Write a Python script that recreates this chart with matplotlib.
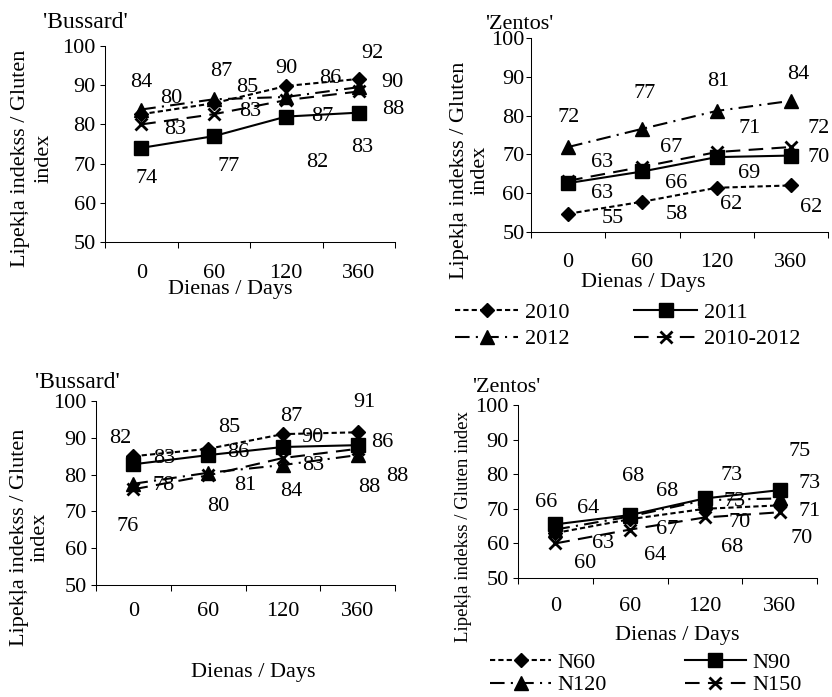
import matplotlib
matplotlib.use('Agg')
import matplotlib.pyplot as plt

plt.rcParams['font.family'] = ['Liberation Serif', 'DejaVu Serif']
plt.rcParams['font.size'] = 16

W, H = 832, 697

# ---------------- data ----------------
categories = ['0', '60', '120', '360']

year_names = ['2010', '2011', '2012', '2010-2012']
nitro_names = ['N60', 'N90', 'N120', 'N150']

# Top-left: 'Bussard' by year
bus_y2010 = [82.6, 85.4, 89.8, 91.6]
bus_y2011 = [74.0, 77.0, 82.0, 83.0]
bus_y2012 = [83.8, 86.4, 87.0, 89.5]
bus_ymean = [80.0, 82.6, 86.2, 88.4]
bus_y2010_lbl = ['83', '85', '90', '92']
bus_y2011_lbl = ['74', '77', '82', '83']
bus_y2012_lbl = ['84', '87', '87', '90']
bus_ymean_lbl = ['80', '83', '86', '88']

# Top-right: 'Zentos' by year
zen_y2010 = [54.7, 57.8, 61.4, 62.0]
zen_y2011 = [62.6, 65.6, 69.3, 69.7]
zen_y2012 = [71.9, 76.6, 81.2, 83.8]
zen_ymean = [63.2, 66.8, 70.6, 71.9]
zen_y2010_lbl = ['55', '58', '62', '62']
zen_y2011_lbl = ['63', '66', '69', '70']
zen_y2012_lbl = ['72', '77', '81', '84']
zen_ymean_lbl = ['63', '67', '71', '72']

# Bottom-left: 'Bussard' by nitrogen rate
bus_n60 = [85.0, 87.0, 91.0, 91.5]
bus_n90 = [82.8, 85.3, 87.5, 88.0]
bus_n120 = [77.5, 80.5, 82.6, 85.3]
bus_n150 = [76.0, 79.8, 84.5, 87.0]
bus_n60_lbl = ['82', '85', '87', '91']
bus_n90_lbl = ['83', '86', '90', '86']
bus_n120_lbl = ['78', '81', '83', '88']
bus_n150_lbl = ['76', '80', '84', '88']

# Bottom-right: 'Zentos' by nitrogen rate
zen_n60 = [63.0, 67.0, 70.0, 71.0]
zen_n90 = [65.5, 68.2, 73.0, 75.4]
zen_n120 = [64.0, 67.8, 72.5, 73.0]
zen_n150 = [60.0, 64.0, 67.5, 69.0]
zen_n60_lbl = ['63', '67', '70', '71']
zen_n90_lbl = ['66', '68', '73', '75']
zen_n120_lbl = ['64', '68', '73', '73']
zen_n150_lbl = ['60', '64', '68', '70']

# ---------------- label offsets (dx in categories, dy in index units) ----------------
off_p1 = [
    ([0.47, 0.46, 0.0, 0.19], [-4.0, 3.9, 4.5, 6.6]),
    ([0.07, 0.2, 0.43, 0.05], [-7.7, -7.8, -11.6, -8.8]),
    ([0.0, 0.11, 0.5, 0.47], [7.0, 7.0, -5.1, 1.3]),
    ([0.41, 0.5, 0.61, 0.47], [6.7, 0.6, 5.6, -4.7]),
]
off_p2 = [
    ([0.6, 0.46, 0.2, 0.27], [-1.1, -3.4, -4.2, -5.8]),
    ([0.46, 0.46, 0.44, 0.38], [-2.6, -3.0, -4.1, -0.4]),
    ([0.01, 0.03, 0.02, 0.1], [7.7, 9.0, 7.5, 6.7]),
    ([0.46, 0.39, 0.44, 0.38], [4.6, 5.1, 6.2, 4.9]),
]
off_p3 = [
    ([-0.18, 0.28, 0.11, 0.09], [4.9, 5.9, 4.7, 8.2]),
    ([0.41, 0.4, 0.4, 0.33], [1.6, 0.6, 2.6, 0.8]),
    ([0.41, 0.5, 0.4, 0.53], [-0.4, -3.4, -0.1, -5.7]),
    ([-0.08, 0.13, 0.11, 0.15], [-10.2, -8.6, -9.2, -10.4]),
]
off_p4 = [
    ([0.64, 0.5, 0.47, 0.4], [-2.9, -3.1, -4.1, -1.9]),
    ([-0.12, 0.04, 0.36, 0.27], [6.2, 11.0, 6.5, 11.3]),
    ([0.44, 0.5, 0.4, 0.4], [6.2, 7.3, -0.5, 4.2]),
    ([0.4, 0.33, 0.37, 0.29], [-5.7, -7.6, -8.8, -7.7]),
]

# ---------------- styles ----------------
styles = [
    dict(linestyle=(0, (2.5, 1.5)), marker='D', markersize=7.3),
    dict(linestyle='-', marker='s', markersize=9.5),
    dict(linestyle=(0, (7, 3, 1, 3)), marker='^', markersize=10.5),
    dict(linestyle=(0, (7, 4)), marker='x', markersize=9, markeredgewidth=2),
]


def rect(l, r, t, b):
    return [l / W, 1 - b / H, (r - l) / W, (b - t) / H]


def fx(x):
    return x / W


def fy(y):
    return 1 - y / H


fig = plt.figure(figsize=(W / 100, H / 100), dpi=100)


def draw_panel(box, series, labels, offsets, names, xpad, ypad):
    ax = fig.add_axes(rect(*box))
    x = list(range(len(categories)))
    handles = []
    for vals, lbls, (dxs, dys), st, nm in zip(series, labels, offsets, styles, names):
        h, = ax.plot(x, vals, color='black', linewidth=1.5, markerfacecolor='black',
                     markeredgecolor='black', clip_on=False, label=nm, **st)
        handles.append(h)
        for xi, v, t, dx, dy in zip(x, vals, lbls, dxs, dys):
            ax.text(xi + dx, v + dy, t, ha='center', va='center', fontsize=16)
    ax.set_xlim(-0.5, 3.5)
    ax.set_ylim(50, 100)
    ax.set_yticks([50, 60, 70, 80, 90, 100])
    ax.set_xticks(x)
    ax.set_xticklabels(categories)
    ax.set_xticks([-0.5, 0.5, 1.5, 2.5, 3.5], minor=True)
    ax.tick_params(axis='x', which='major', length=0, pad=xpad, labelsize=16)
    ax.tick_params(axis='x', which='minor', length=4.5, width=0.75, direction='out')
    ax.tick_params(axis='y', length=3.6, width=0.75, direction='out', pad=ypad, labelsize=16)
    for s in ['top', 'right']:
        ax.spines[s].set_visible(False)
    for s in ['left', 'bottom']:
        ax.spines[s].set_linewidth(0.75)
    ax.patch.set_alpha(0)
    return ax, handles


ax1, h1 = draw_panel((105, 395, 46, 242),
                     [bus_y2010, bus_y2011, bus_y2012, bus_ymean],
                     [bus_y2010_lbl, bus_y2011_lbl, bus_y2012_lbl, bus_ymean_lbl],
                     off_p1, year_names, 16, 3)
ax2, h2 = draw_panel((531, 828, 38, 232),
                     [zen_y2010, zen_y2011, zen_y2012, zen_ymean],
                     [zen_y2010_lbl, zen_y2011_lbl, zen_y2012_lbl, zen_ymean_lbl],
                     off_p2, year_names, 15, 1)
ax3, h3 = draw_panel((96, 395, 401, 585),
                     [bus_n60, bus_n90, bus_n120, bus_n150],
                     [bus_n60_lbl, bus_n90_lbl, bus_n120_lbl, bus_n150_lbl],
                     off_p3, nitro_names, 12, 3)
ax4, h4 = draw_panel((518, 817, 405, 578),
                     [zen_n60, zen_n90, zen_n120, zen_n150],
                     [zen_n60_lbl, zen_n90_lbl, zen_n120_lbl, zen_n150_lbl],
                     off_p4, nitro_names, 14, 3)

# titles
fig.text(fx(43), fy(28), "'Bussard'", ha='left', va='baseline', fontsize=17)
fig.text(fx(485), fy(29), "'Zentos'", ha='left', va='baseline', fontsize=16)
fig.text(fx(35), fy(388), "'Bussard'", ha='left', va='baseline', fontsize=17)
fig.text(fx(472), fy(392), "'Zentos'", ha='left', va='baseline', fontsize=16)

# y labels
fig.text(fx(32), fy(158), 'Lipekļa indekss / Gluten\nindex', rotation=90, ha='center',
         va='center', multialignment='center', fontsize=16, linespacing=1.3)
fig.text(fx(470), fy(170), 'Lipekļa indekss / Gluten\nindex', rotation=90, ha='center',
         va='center', multialignment='center', fontsize=16, linespacing=1.1)
fig.text(fx(30), fy(537), 'Lipekļa indekss / Gluten\nindex', rotation=90, ha='center',
         va='center', multialignment='center', fontsize=16, linespacing=1.1)
fig.text(fx(463), fy(527), 'Lipekļa indekss / Gluten index', rotation=90, ha='center',
         va='center', fontsize=13.5)

# x labels
fig.text(fx(230), fy(294), 'Dienas / Days', ha='center', va='baseline', fontsize=16)
fig.text(fx(643), fy(287), 'Dienas / Days', ha='center', va='baseline', fontsize=16)
fig.text(fx(253), fy(677), 'Dienas / Days', ha='center', va='baseline', fontsize=16)
fig.text(fx(677), fy(640), 'Dienas / Days', ha='center', va='baseline', fontsize=16)

# legends (row-major order: 1st, 2nd on row one)
order = [0, 2, 1, 3]
fig.legend([h2[i] for i in order], [year_names[i] for i in order], ncol=2,
           loc='upper left', bbox_to_anchor=(fx(455), fy(302)), frameon=False,
           fontsize=16, handlelength=2.85, handletextpad=0.3, columnspacing=2.9,
           labelspacing=0.28, borderpad=0, borderaxespad=0)
fig.legend([h4[i] for i in order], [nitro_names[i] for i in order], ncol=2,
           loc='upper left', bbox_to_anchor=(fx(490), fy(652)), frameon=False,
           fontsize=16, handlelength=2.75, handletextpad=0.3, columnspacing=3.5,
           labelspacing=0.1, borderpad=0, borderaxespad=0)

fig.savefig('out.png', dpi=100)
